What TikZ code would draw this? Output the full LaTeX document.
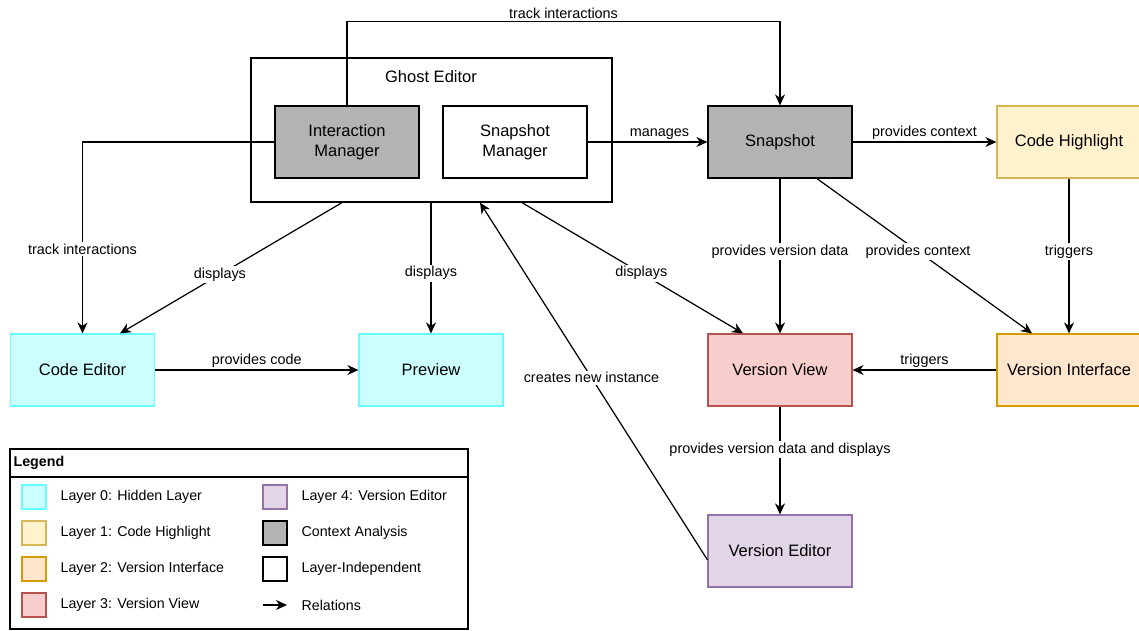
\documentclass[tikz,border=0pt]{standalone}
\usepackage{fontspec}
\setmainfont{Liberation Sans}
\usetikzlibrary{arrows.meta}

\definecolor{ctxfill}{HTML}{B3B3B3}
\definecolor{hidfill}{HTML}{CCFFFF}
\definecolor{hiddraw}{HTML}{66FFFF}
\definecolor{hlfill}{HTML}{FFF2CC}
\definecolor{hldraw}{HTML}{D6B656}
\definecolor{vifill}{HTML}{FFE6CC}
\definecolor{vidraw}{HTML}{D79B00}
\definecolor{vvfill}{HTML}{F8CECC}
\definecolor{vvdraw}{HTML}{B85450}
\definecolor{vefill}{HTML}{E1D5E7}
\definecolor{vedraw}{HTML}{9673A6}

\begin{document}
\begin{tikzpicture}[
			x=0.02cm, y=-0.02cm,
			line width=0.7pt,
			>={Stealth[length=2.2mm,width=2mm,inset=0.7mm]},
			box/.style={rectangle, draw, minimum width=2.88cm, minimum height=1.44cm, align=center, font=\fontsize{9.4}{11.5}\selectfont},
			context/.style={box, fill=ctxfill},
			indep/.style={box, fill=white},
			hidden/.style={box, fill=hidfill, draw=hiddraw},
			highlight/.style={box, fill=hlfill, draw=hldraw},
			verint/.style={box, fill=vifill, draw=vidraw},
			verview/.style={box, fill=vvfill, draw=vvdraw},
			veredit/.style={box, fill=vefill, draw=vedraw},
			lbl/.style={font=\fontsize{8.2}{10}\selectfont, fill=white, inner sep=1pt},
			swatch/.style={rectangle, draw, minimum size=0.48cm, inner sep=0pt},
			legtext/.style={anchor=west, font=\fontsize{8.1}{10}\selectfont, inner sep=0pt}
		]
		\useasboundingbox (0,0) rectangle (1139,630);

		% Ghost Editor container
		\node[draw, minimum width=7.22cm, minimum height=2.88cm] (ghost) at (431.5,130) {};
		\node[font=\fontsize{9.4}{11.5}\selectfont] (ghostlbl) at (431,77) {Ghost Editor};
		\node[context] (imgr) at (347,142) {Interaction\\Manager};
		\node[indep] (smgr) at (515,142) {Snapshot\\Manager};

		\node[context] (snap) at (780,142) {Snapshot};
		\node[highlight] (chl) at (1069,142) {Code Highlight};
		\node[verint] (vint) at (1069,370) {Version Interface};
		\node[verview] (vview) at (780,370) {Version View};
		\node[veredit] (vedit) at (780,551) {Version Editor};
		\node[hidden] (ced) at (82.5,370) {Code Editor};
		\node[hidden] (prev) at (431,370) {Preview};

		% relations
		\draw[->] (imgr.north) -- ++(0,-84) -| node[pos=0.25, above, lbl, fill=none] {track interactions} (snap.north);
		\draw[->] (imgr.west) -| node[pos=0.78, lbl] {track interactions} (ced.north);
		\draw[->] ([xshift=-1.79cm]ghost.south) -- node[pos=0.55, lbl] {displays} ([xshift=0.75cm]ced.north);
		\draw[->] (prev.north |- ghost.south) -- node[pos=0.54, lbl] {displays} (prev.north);
		\draw[->] ([xshift=1.81cm]ghost.south) -- node[pos=0.54, lbl] {displays} ([xshift=-0.74cm]vview.north);
		\draw[->] (smgr.east) -- node[pos=0.6, above, lbl, fill=none] {manages} (snap.west);
		\draw[->] (snap.east) -- node[above, lbl, fill=none] {provides context} (chl.west);
		\draw[->] (snap.south) -- node[pos=0.47, lbl] {provides version data} (vview.north);
		\draw[->] ([xshift=0.74cm]snap.south) -- node[pos=0.47, lbl] {provides context} ([xshift=-0.74cm]vint.north);
		\draw[->] (chl.south) -- node[pos=0.47, lbl] {triggers} (vint.north);
		\draw[->] (vint.west) -- node[above, lbl, fill=none] {triggers} (vview.east);
		\draw[->] (ced.east) -- node[above, lbl, fill=none] {provides code} (prev.west);
		\draw[->] (vview.south) -- node[pos=0.4, lbl] {provides version data and displays} (vedit.north);
		\draw[->] ([yshift=-5pt]vedit.west) -- node[pos=0.51, lbl] {creates new instance} ([xshift=0.97cm]ghost.south);

		% legend
		\node[draw, minimum width=9.16cm, minimum height=3.6cm] (legend) at (239,539) {};
		\draw (legend.west |- 0,477) -- (legend.east |- 0,477);
		\node[anchor=west, inner sep=0pt, font=\bfseries\fontsize{8.1}{10}\selectfont] (legtitle) at (13,463) {Legend};

		\node[swatch, fill=hidfill, draw=hiddraw] (sw0) at (34,497) {};
		\node[legtext] at (60,497) {Layer 0: Hidden Layer};
		\node[swatch, fill=hlfill, draw=hldraw] (sw1) at (34,533) {};
		\node[legtext] at (60,533) {Layer 1: Code Highlight};
		\node[swatch, fill=vifill, draw=vidraw] (sw2) at (34,569) {};
		\node[legtext] at (60,569) {Layer 2: Version Interface};
		\node[swatch, fill=vvfill, draw=vvdraw] (sw3) at (34,605) {};
		\node[legtext] at (60,605) {Layer 3: Version View};

		\node[swatch, fill=vefill, draw=vedraw] (sw4) at (275,497) {};
		\node[legtext] at (301,497) {Layer 4: Version Editor};
		\node[swatch, fill=ctxfill] (swc) at (275,533) {};
		\node[legtext] at (301,533) {Context Analysis};
		\node[swatch, fill=white] (swi) at (275,569) {};
		\node[legtext] at (301,569) {Layer-Independent};
		\coordinate (relA) at (263,605);
		\coordinate (relB) at (287,605);
		\draw[->] (relA) -- (relB);
		\node[legtext] at (301,605) {Relations};
	\end{tikzpicture}
\end{document}
